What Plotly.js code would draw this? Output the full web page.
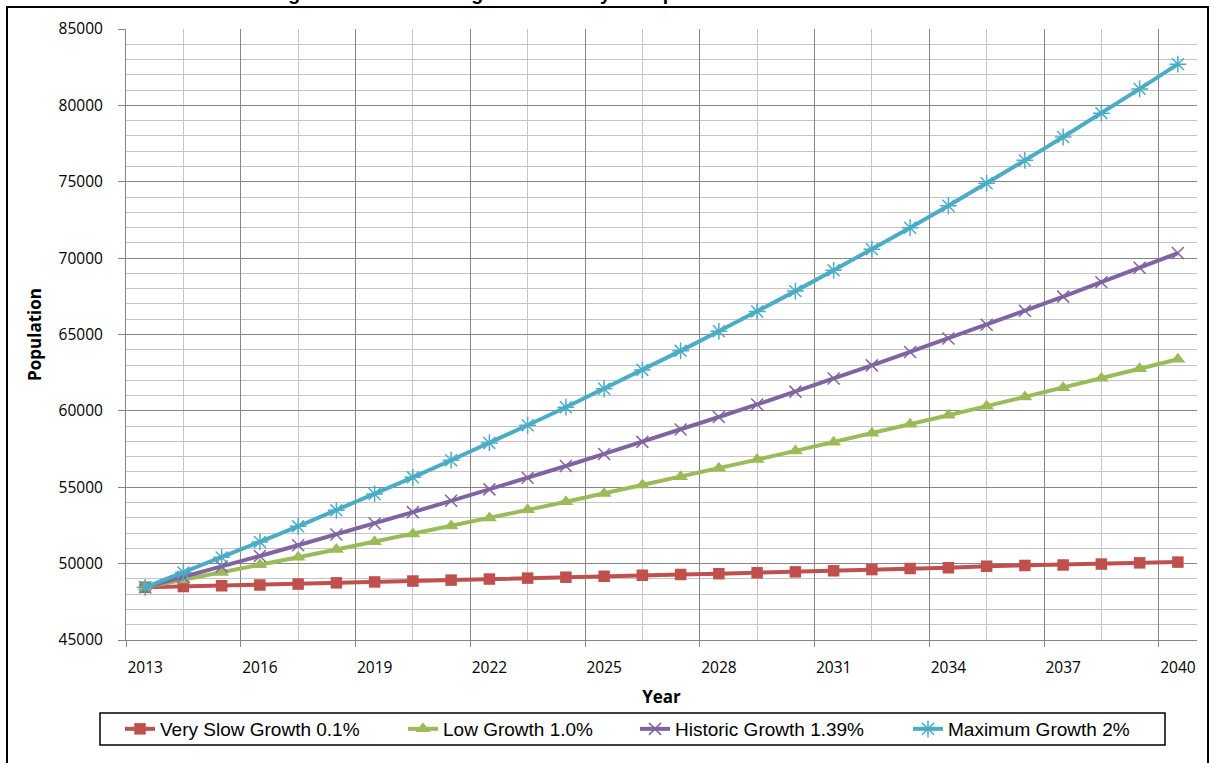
<!DOCTYPE html>
<html>
<head>
<meta charset="utf-8">
<script src="https://cdn.plot.ly/plotly-3.0.1.min.js"></script>
<style>
  html, body { margin:0; padding:0; background:#fff; overflow:hidden; width:1212px; height:763px; }
  #chart { position:absolute; left:0; top:0; width:1212px; height:763px; }
  #frame { position:absolute; left:6px; top:6px; width:1199px; height:900px; border:2.5px solid #000; pointer-events:none; }
  #title { position:absolute; left:246px; top:-17px; font-family:"Liberation Sans", Arial, sans-serif; font-weight:bold; font-size:19.5px; line-height:20px; white-space:nowrap; color:#000; }
</style>
</head>
<body>
<div id="title">Using Census Data: Long Term Rate by Group Scenario</div>
<div id="chart"></div>
<div id="frame"></div>
<script>
const years = [2013,2014,2015,2016,2017,2018,2019,2020,2021,2022,2023,2024,2025,2026,2027,2028,2029,2030,2031,2032,2033,2034,2035,2036,2037,2038,2039,2040];
const tickYears = [2013,2016,2019,2022,2025,2028,2031,2034,2037,2040];
const tickLabels = ['2013','2016','2019','2022','2025','2028','2031','2034','2037','2040'];

const verySlowGrowth = [48450,48500,48550,48600,48660,48740,48800,48860,48920,48990,49050,49110,49170,49240,49290,49340,49400,49460,49530,49610,49680,49730,49830,49880,49910,49970,50050,50100];
const lowGrowth = [48450,48930,49420,49920,50420,50920,51430,51940,52460,52990,53520,54050,54590,55140,55690,56250,56810,57380,57950,58530,59120,59710,60310,60910,61520,62130,62760,63380];
const historicGrowth = [48450,49120,49810,50500,51200,51910,52630,53370,54110,54860,55620,56390,57180,57970,58780,59600,60420,61260,62120,62980,63860,64740,65640,66560,67480,68420,69370,70330];
const maximumGrowth = [48450,49420,50410,51420,52440,53490,54560,55650,56770,57900,59060,60240,61450,62680,63930,65210,66510,67840,69200,70580,71990,73430,74900,76400,77930,79490,81080,82700];

const seriesNames = ['Very Slow Growth 0.1%','Low Growth 1.0%','Historic Growth 1.39%','Maximum Growth 2%'];

const traces = [
  {x: years, y: verySlowGrowth, name: seriesNames[0], type:'scatter', mode:'lines+markers', legend:'legend',
   line:{color:'#C0504D', width:4}, marker:{symbol:'square', size:11.5, color:'#C0504D'}},
  {x: years, y: lowGrowth, name: seriesNames[1], type:'scatter', mode:'lines+markers', legend:'legend2',
   line:{color:'#9BBB59', width:4}, marker:{symbol:'triangle-up', size:13, color:'#9BBB59'}},
  {x: years, y: historicGrowth, name: seriesNames[2], type:'scatter', mode:'lines+markers', legend:'legend3',
   line:{color:'#8064A2', width:4}, marker:{symbol:'x-thin-open', size:12, color:'#8064A2', line:{color:'#8064A2', width:1.5}}},
  {x: years, y: maximumGrowth, name: seriesNames[3], type:'scatter', mode:'lines+markers', legend:'legend4',
   line:{color:'#4BACC6', width:4}, marker:{symbol:'asterisk-open', size:14, color:'#4BACC6', line:{color:'#4BACC6', width:1.5}}},
  // empty trace that registers the label axis (no data)
  {x: [], y: [], type:'scatter', mode:'markers', xaxis:'x2', yaxis:'y', showlegend:false, hoverinfo:'skip'}
];

const tickFont = {family:'"Open Sans", Lato, sans-serif', size:15.5, color:'#000'};
const titleFont = {family:'"Open Sans", Lato, sans-serif', size:17, color:'#000', weight:'bold'};
const legendFont = {family:'"Liberation Sans", Arial, sans-serif', size:19, color:'#000'};

function legendAt(px) {
  return {orientation:'h', x:(px - 126) / 1071, xanchor:'left', y:(640 - 729) / 611, yanchor:'middle',
          borderwidth:0, bgcolor:'rgba(0,0,0,0)', font:legendFont};
}

const layout = {
  width:1212, height:763,
  margin:{l:126, r:15, t:29, b:123, pad:0},
  paper_bgcolor:'rgba(0,0,0,0)',
  plot_bgcolor:'#ffffff',
  showlegend:true,
  legend: legendAt(120),
  legend2: legendAt(403),
  legend3: legendAt(635),
  legend4: legendAt(908),
  shapes:[{type:'rect', xref:'paper', yref:'paper',
           x0:(100 - 126) / 1071, x1:(1165 - 126) / 1071,
           y0:(640 - 745) / 611, y1:(640 - 713) / 611,
           line:{color:'#000', width:1.5}, fillcolor:'rgba(0,0,0,0)', layer:'below'}],
  xaxis:{range:[2012.5, 2040.5], tickmode:'linear', tick0:2012.5, dtick:3,
         showticklabels:false, ticks:'outside', ticklen:6, tickcolor:'#868686', tickwidth:1,
         showgrid:true, gridcolor:'#868686', gridwidth:1,
         minor:{tickmode:'linear', tick0:2012.5, dtick:1.5, showgrid:true, gridcolor:'#c4c4c4', gridwidth:1, ticks:''},
         showline:true, linecolor:'#868686', linewidth:1, zeroline:false, fixedrange:true},
  xaxis2:{overlaying:'x', anchor:'y', side:'bottom', range:[2012.5, 2040.5],
          tickmode:'array', tickvals:tickYears, ticktext:tickLabels,
          showgrid:false, showline:false, zeroline:false, ticks:'',
          ticklabelstandoff:16, tickfont:tickFont,
          title:{text:'Year', font:titleFont, standoff:14}, fixedrange:true},
  yaxis:{range:[45000, 85000], tickmode:'linear', tick0:45000, dtick:5000, tickformat:'d',
         ticks:'outside', ticklen:7, tickcolor:'#868686', tickwidth:1,
         showgrid:true, gridcolor:'#868686', gridwidth:1,
         minor:{tickmode:'linear', tick0:45000, dtick:1000, showgrid:true, gridcolor:'#c4c4c4', gridwidth:1, ticks:''},
         showline:true, linecolor:'#868686', linewidth:1, zeroline:false,
         ticklabelstandoff:12, tickfont:tickFont,
         title:{text:'Population', font:titleFont, standoff:12}, fixedrange:true}
};

Plotly.newPlot('chart', traces, layout, {displayModeBar:false, staticPlot:true});
</script>
</body>
</html>
